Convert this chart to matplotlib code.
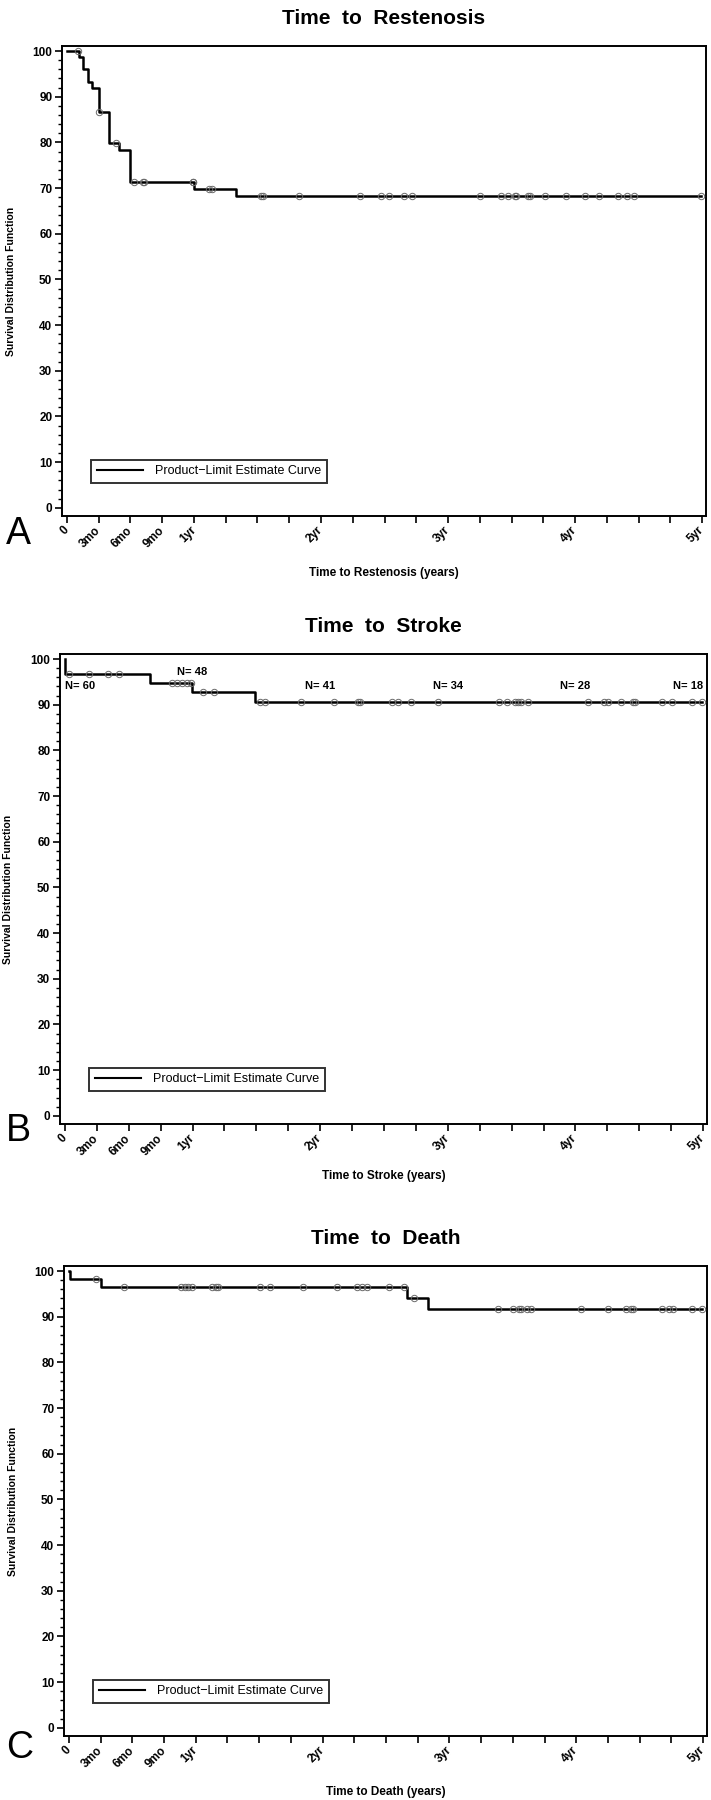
import numpy as np
import matplotlib
matplotlib.use('Agg')
import matplotlib.pyplot as plt
from matplotlib.ticker import FixedLocator, MultipleLocator

plt.rcParams['font.family'] = ['Liberation Sans', 'DejaVu Sans']

# x ticks every 3 months, labelled only at some of them
xticks = np.arange(0, 5.01, 0.25)
xtick_text = {0: '0', 0.25: '3mo', 0.5: '6mo', 0.75: '9mo', 1: '1yr',
              2: '2yr', 3: '3yr', 4: '4yr', 5: '5yr'}

# Time to Restenosis
A_drop = [0.094, 0.124, 0.165, 0.197, 0.252, 0.333, 0.412, 0.498, 0.998, 1.333]
A_surv = [100, 98.6, 96.0, 93.3, 92.0, 86.7, 79.8, 78.4, 71.4, 69.9, 68.2]
A_cens = [0.09, 0.255, 0.383, 0.528, 0.596, 0.609, 0.99, 0.994, 1.116, 1.145,
          1.525, 1.546, 1.83, 2.307, 2.47, 2.535, 2.654, 2.714, 3.254, 3.42,
          3.47, 3.528, 3.533, 3.628, 3.643, 3.761, 3.927, 4.081, 4.189, 4.336,
          4.412, 4.467, 4.992]

# Time to Stroke
B_drop = [0.003, 0.665, 0.995, 1.49]
B_surv = [100, 96.7, 94.8, 92.8, 90.7]
B_cens = [0.034, 0.19, 0.34, 0.425, 0.835, 0.88, 0.92, 0.96, 0.99, 1.085, 1.17,
          1.525, 1.565, 1.85, 2.11, 2.295, 2.31, 2.56, 2.61, 2.71, 2.92, 3.40,
          3.465, 3.53, 3.55, 3.57, 3.63, 4.095, 4.225, 4.255, 4.36, 4.45, 4.47,
          4.68, 4.76, 4.915, 4.995]
B_n_time = [0, 1, 2, 3, 4, 5]
B_n = [60, 48, 41, 34, 28, 18]
B_n_y = [94.0, 97.1, 94.0, 94.0, 94.0, 94.0]

# Time to Death
C_drop = [0.005, 0.254, 2.663, 2.83]
C_surv = [100, 98.3, 96.6, 94.1, 91.6]
C_cens = [0.214, 0.432, 0.88, 0.914, 0.937, 0.974, 1.13, 1.163, 1.174, 1.51,
          1.587, 1.845, 2.113, 2.275, 2.307, 2.354, 2.525, 2.645, 2.723, 3.38,
          3.50, 3.55, 3.562, 3.61, 3.645, 4.04, 4.25, 4.39, 4.43, 4.445, 4.68,
          4.73, 4.76, 4.91, 4.99]

panels = [
    ('Time  to  Restenosis', 'Time to Restenosis (years)', 'A', A_drop, A_surv, A_cens,
     [62, 46, 706], 534, 567),
    ('Time  to  Stroke', 'Time to Stroke (years)', 'B', B_drop, B_surv, B_cens,
     [60, 654, 707], 1131, 1170),
    ('Time  to  Death', 'Time to Death (years)', 'C', C_drop, C_surv, C_cens,
     [64, 1266, 707], 1748, 1786),
]

W, H = 711, 1800
axh = 470
fig = plt.figure(figsize=(W / 100, H / 100), dpi=100)

for title, xlab, letter, drops, surv, cens, box, let_y, xl_y in panels:
    left, top, right = box
    ax = fig.add_axes([left / W, 1 - (top + axh) / H, (right - left) / W, axh / H])

    t_end = max(cens)
    xs = np.concatenate([[0], drops, [t_end]])
    ys = np.concatenate([surv, [surv[-1]]])
    ax.step(xs, ys, where='post', color='black', lw=1.8,
            label='Product\u2212Limit Estimate Curve', zorder=3)

    idx = np.searchsorted(drops, cens, side='right')
    cy = np.array(surv)[idx]
    ax.plot(cens, cy, 'o', ms=4.6, mfc='none', mec='#6a6a6a', mew=0.7, zorder=4)

    if letter == 'B':
        for t, n, y in zip(B_n_time, B_n, B_n_y):
            ha = 'left' if t == 0 else ('right' if t == 5 else 'center')
            ax.text(t, y, 'N= %d' % n, ha=ha, va='center', fontsize=8,
                    fontweight='bold', zorder=5)

    ax.set_xlim(-0.039, 5.031)
    ax.set_ylim(-1.8, 101.1)
    ax.xaxis.set_major_locator(FixedLocator(xticks))
    ax.set_xticklabels([xtick_text.get(round(t, 2), '') for t in xticks],
                       rotation=45, ha='right', va='center', rotation_mode='anchor',
                       fontsize=8.5, fontweight='bold')
    ax.yaxis.set_major_locator(MultipleLocator(10))
    ax.yaxis.set_minor_locator(MultipleLocator(2))
    for lab in ax.get_yticklabels():
        lab.set_fontsize(8.5)
        lab.set_fontweight('bold')
    ax.tick_params(axis='both', which='major', direction='out', length=5, width=1.2, pad=2)
    ax.tick_params(axis='x', pad=4)
    ax.tick_params(axis='y', which='minor', direction='out', length=3, width=1.0)
    for sp in ax.spines.values():
        sp.set_linewidth(1.4)

    ax.set_title(title, fontsize=15, fontweight='bold', pad=16)
    ax.set_ylabel('Survival Distribution Function', fontsize=7.5, fontweight='bold')
    ax.yaxis.set_label_coords(-0.072, 0.5)
    ax.set_xlabel(xlab, fontsize=8.5, fontweight='bold')
    ax.xaxis.set_label_coords(0.5, -(xl_y - (top + axh)) / axh)

    leg = ax.legend(loc='lower left', bbox_to_anchor=(0.045, 0.07), borderaxespad=0,
                    fontsize=9, frameon=True, fancybox=False, handlelength=3.7,
                    handletextpad=1.0, borderpad=0.45)
    leg.get_frame().set_edgecolor('black')
    leg.get_frame().set_linewidth(1.4)
    leg.get_lines()[0].set_linewidth(1.5)

    fig.text(6 / W, 1 - let_y / H, letter, fontsize=27, ha='left', va='center')

fig.savefig('out.png', dpi=100)
